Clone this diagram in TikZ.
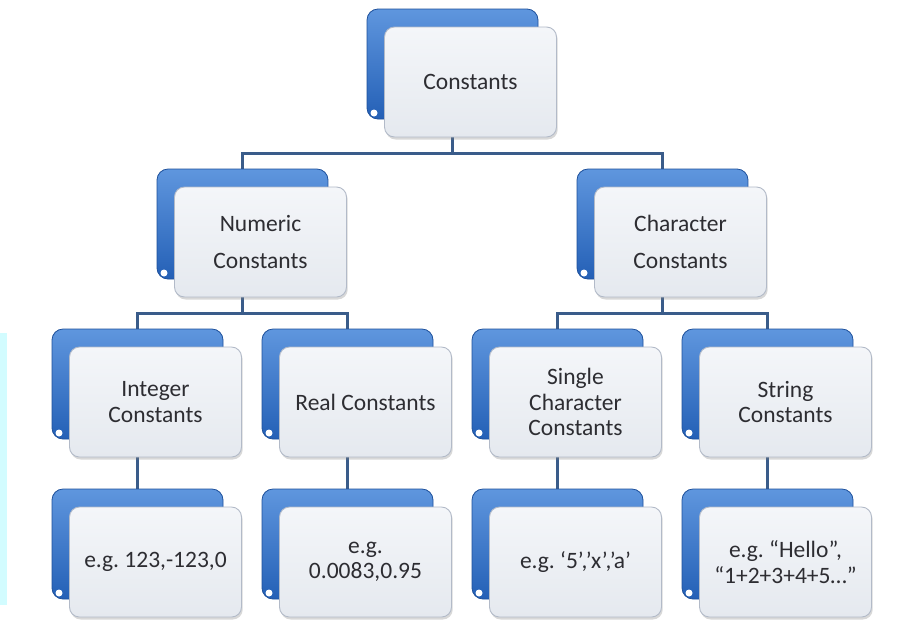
\documentclass[tikz,border=0pt]{standalone}
\usepackage{fontspec}
\setmainfont{Carlito}
\frenchspacing
\usetikzlibrary{shadows}
\pgfdeclarelayer{bg}
\pgfsetlayers{bg,main}
\definecolor{bluetop}{RGB}{95,150,222}
\definecolor{bluemid}{RGB}{48,112,200}
\definecolor{bluebot}{RGB}{36,96,182}
\definecolor{blueedge}{RGB}{30,80,155}
\definecolor{fronttop}{RGB}{244,246,249}
\definecolor{frontbot}{RGB}{229,233,239}
\definecolor{frontedge}{RGB}{178,186,200}
\definecolor{connblue}{RGB}{58,92,138}
\definecolor{txtgray}{RGB}{45,45,50}
\definecolor{bandcyan}{RGB}{210,252,255}
\tikzset{
  backbox/.style={draw=blueedge, line width=0.8pt, rounded corners=11pt,
    top color=bluetop, middle color=bluemid, bottom color=bluebot,
    minimum width=171pt, minimum height=110pt, inner sep=0pt},
  frontbox/.style={draw=frontedge, line width=0.9pt, rounded corners=10pt,
    top color=fronttop, bottom color=frontbot,
    drop shadow={shadow xshift=1.2pt, shadow yshift=-2.5pt, opacity=0.3},
    minimum width=172pt, minimum height=110pt, inner sep=2pt, align=center,
    text=txtgray, font=\fontsize{23.5}{25.5}\selectfont},
  conn/.style={draw=connblue, line width=3pt},
  notch/.style={fill=white}
}
\newcommand{\cbox}[4]{%
  \node[backbox] (#1b) at (#2+85.5,#3+55) {};
  \fill[notch] (#2+7,#3+104) circle (3.5);
  \node[frontbox] (#1) at (#2+103.5,#3+73) {#4};
}
\begin{document}
\begin{tikzpicture}[x=1pt,y=-1pt]
\useasboundingbox (0,0) rectangle (901,625);
\cbox{top}{367}{9}{Constants}
\cbox{num}{157}{169}{Numeric\\[12pt]Constants}
\cbox{chr}{577}{169}{Character\\[12pt]Constants}
\cbox{int}{52}{329}{Integer\\Constants}
\cbox{real}{262}{329}{Real Constants}
\cbox{sgl}{472}{329}{Single\\Character\\Constants}
\cbox{str}{682}{329}{String\\Constants}
\cbox{inte}{52}{489}{e.g. 123,-123,0}
\cbox{reale}{262}{489}{e.g.\\0.0083,0.95}
\cbox{sgle}{472}{489}{e.g. ‘5’,’x’,’a’}
\cbox{stre}{682}{489}{e.g. “Hello”,\\“1+2+3+4+5…”}
\begin{pgfonlayer}{bg}
\fill[white] (0,0) rectangle (901,625);
\fill[bandcyan] (0,333) rectangle (7,605);
\coordinate (bus1) at (0,153);
\coordinate (bus2) at (0,313);
\draw[conn] (topb.center) -- (topb.center |- bus1);
\draw[conn] (numb.center) |- (topb.center |- bus1) -| (chrb.center);
\draw[conn] (numb.center) -- (numb.center |- bus2);
\draw[conn] (intb.center) |- (numb.center |- bus2) -| (realb.center);
\draw[conn] (chrb.center) -- (chrb.center |- bus2);
\draw[conn] (sglb.center) |- (chrb.center |- bus2) -| (strb.center);
\draw[conn] (intb.center) -- (inteb.center);
\draw[conn] (realb.center) -- (realeb.center);
\draw[conn] (sglb.center) -- (sgleb.center);
\draw[conn] (strb.center) -- (streb.center);
\end{pgfonlayer}
\end{tikzpicture}
\end{document}
